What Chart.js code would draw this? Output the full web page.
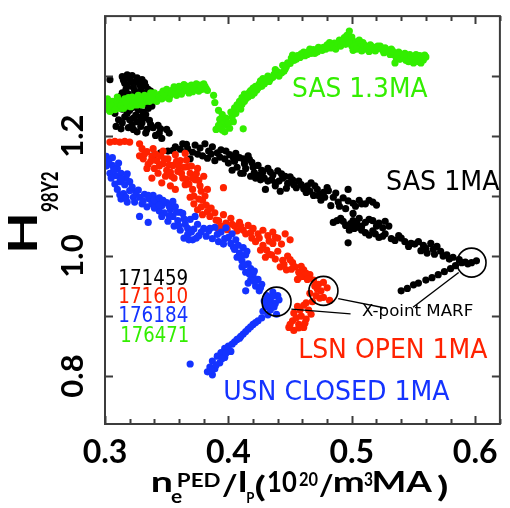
<!DOCTYPE html>
<html lang="en">
<head>
<meta charset="UTF-8">
<title>H98Y2 vs pedestal density</title>
<script src="https://cdn.jsdelivr.net/npm/chart.js"></script>
<style>
  html, body { margin: 0; padding: 0; background: #fff; overflow: hidden; }
  #wrap { position: relative; width: 516px; height: 508px; }
</style>
</head>
<body>
<div id="wrap"><canvas id="chart" width="516" height="508"></canvas></div>
<script>
// ---- data: [ne_ped/Ip, H98Y2] ----
const shot171459 = [ // black, SAS 1MA
  [0.304,1.294],[0.314,1.299],[0.318,1.302],[0.322,1.301],[0.326,1.297],[0.330,1.294],[0.316,1.288],[0.321,1.290],
  [0.328,1.286],[0.333,1.283],[0.337,1.275],[0.317,1.278],[0.324,1.275],[0.331,1.272],[0.313,1.267],[0.320,1.262],
  [0.326,1.265],[0.334,1.261],[0.339,1.259],[0.316,1.251],[0.323,1.248],[0.329,1.252],[0.335,1.246],[0.318,1.238],
  [0.325,1.235],[0.331,1.240],[0.320,1.227],[0.326,1.224],[0.332,1.230],[0.309,1.216],[0.313,1.212],[0.319,1.214],
  [0.323,1.211],[0.329,1.216],[0.334,1.211],[0.339,1.214],[0.345,1.212],[0.350,1.211],[0.341,1.201],[0.346,1.196],
  [0.308,1.238],[0.309,1.251],[0.311,1.227],
  [0.315,1.293],[0.320,1.296],[0.325,1.291],[0.332,1.289],[0.318,1.283],[0.323,1.281],[0.329,1.279],[0.335,1.278],
  [0.314,1.272],[0.319,1.270],[0.327,1.270],[0.333,1.267],[0.317,1.258],[0.322,1.256],[0.328,1.258],[0.333,1.254],
  [0.338,1.250],[0.314,1.245],[0.320,1.243],[0.327,1.244],[0.333,1.236],[0.316,1.232],[0.323,1.230],[0.329,1.232],
  [0.336,1.226],[0.314,1.222],[0.322,1.219],[0.330,1.222],[0.337,1.219],[0.343,1.218],[0.326,1.207],[0.333,1.205],
  [0.344,1.205],[0.352,1.205],
  [0.339,1.167],[0.345,1.172],[0.351,1.175],[0.357,1.182],[0.363,1.187],[0.367,1.179],[0.369,1.162],[0.373,1.185],
  [0.377,1.180],[0.381,1.187],[0.384,1.175],[0.379,1.167],[0.387,1.182],[0.391,1.172],[0.394,1.177],[0.389,1.159],
  [0.397,1.162],[0.401,1.169],[0.405,1.158],[0.409,1.164],[0.403,1.143],[0.413,1.154],[0.417,1.161],[0.420,1.148],
  [0.410,1.138],[0.424,1.151],[0.418,1.133],[0.428,1.140],[0.432,1.146],[0.426,1.127],[0.436,1.135],[0.440,1.142],
  [0.438,1.122],[0.444,1.130],[0.406,1.171],[0.412,1.162],[0.416,1.167],[0.412,1.138],[0.422,1.130],[0.427,1.143],
  [0.432,1.125],[0.430,1.111],[0.438,1.117],[0.442,1.108],[0.446,1.133],[0.448,1.121],[0.452,1.127],[0.455,1.114],
  [0.459,1.119],[0.463,1.106],[0.467,1.122],[0.469,1.101],[0.472,1.111],[0.475,1.093],[0.477,1.106],[0.481,1.109],
  [0.485,1.098],[0.483,1.084],[0.489,1.090],[0.493,1.097],[0.497,1.111],[0.495,1.079],[0.501,1.088],[0.501,1.071],
  [0.506,1.093],[0.511,1.087],[0.517,1.090],[0.485,1.056],[0.491,1.063],[0.495,1.051],[0.501,1.059],[0.506,1.063],
  [0.511,1.056],[0.517,1.059],[0.522,1.055],[0.527,1.058],[0.530,1.050],[0.498,1.043],[0.505,1.048],[0.511,1.039],
  [0.517,1.042],[0.522,1.031],[0.527,1.037],[0.532,1.029],[0.538,1.034],[0.543,1.024],[0.497,1.022],
  [0.355,1.176],[0.361,1.178],[0.366,1.186],[0.371,1.173],[0.375,1.170],[0.383,1.163],[0.386,1.170],[0.393,1.165],
  [0.398,1.175],[0.400,1.155],[0.404,1.164],[0.407,1.148],[0.414,1.146],[0.419,1.156],[0.421,1.139],[0.425,1.135],
  [0.429,1.130],[0.434,1.140],[0.435,1.127],[0.441,1.125],[0.443,1.137],[0.447,1.113],[0.450,1.132],[0.453,1.119],
  [0.457,1.125],[0.461,1.112],[0.464,1.117],[0.466,1.108],[0.470,1.117],[0.473,1.101],[0.478,1.098],[0.480,1.114],
  [0.487,1.105],[0.490,1.083],[0.497,1.092],[0.503,1.083],[0.508,1.087],[0.514,1.093],[0.520,1.085],[0.488,1.059],
  [0.493,1.058],[0.499,1.054],[0.504,1.055],[0.508,1.050],[0.514,1.061],[0.520,1.050],[0.525,1.047],[0.502,1.046],
  [0.508,1.043],[0.514,1.035],[0.519,1.037],[0.525,1.033],[0.535,1.026],[0.540,1.030],[0.546,1.016],[0.551,1.020],
  [0.560,1.013],[0.567,1.003],[0.574,1.000],[0.579,0.995],
  [0.548,1.021],[0.554,1.024],[0.558,1.018],[0.564,1.021],[0.569,1.016],[0.556,1.009],[0.561,1.005],[0.566,1.011],
  [0.572,1.008],[0.577,1.002],[0.582,0.998],[0.587,0.994],[0.592,0.990],[0.597,0.989],[0.601,0.992],
  [0.540,0.942],[0.545,0.946],[0.550,0.952],[0.554,0.955],[0.560,0.960],[0.565,0.964],[0.570,0.969],[0.575,0.974],
  [0.580,0.979],[0.584,0.984],[0.589,0.989],[0.594,0.987]
];
const shot171610 = [ // red, LSN open
  [0.304,1.190],[0.308,1.191],[0.312,1.190],[0.316,1.191],[0.320,1.190],
  [0.328,1.187],[0.330,1.179],[0.328,1.167],[0.331,1.162],[0.334,1.174],[0.335,1.153],[0.338,1.166],[0.340,1.146],
  [0.342,1.159],[0.345,1.167],[0.347,1.154],[0.343,1.138],[0.350,1.143],[0.351,1.162],[0.354,1.133],[0.355,1.151],
  [0.357,1.169],[0.359,1.141],[0.361,1.159],[0.363,1.130],[0.365,1.171],[0.367,1.149],[0.365,1.119],[0.369,1.138],
  [0.371,1.111],[0.373,1.127],[0.375,1.146],[0.377,1.117],[0.380,1.133],[0.383,1.111],[0.396,1.114],[0.369,1.098],
  [0.372,1.087],[0.375,1.077],[0.379,1.093],[0.379,1.069],[0.383,1.074],[0.338,1.130],[0.334,1.146],[0.346,1.122],
  [0.353,1.117],[0.357,1.111],[0.339,1.179],[0.347,1.175],
  [0.332,1.170],[0.337,1.158],[0.341,1.170],[0.344,1.150],[0.348,1.162],[0.349,1.133],[0.352,1.152],[0.353,1.140],
  [0.356,1.130],[0.358,1.158],[0.360,1.149],[0.362,1.138],[0.364,1.148],[0.366,1.160],[0.366,1.128],[0.368,1.120],
  [0.370,1.150],[0.371,1.130],[0.374,1.137],[0.376,1.126],[0.378,1.108],[0.372,1.100],[0.376,1.095],[0.381,1.100],
  [0.378,1.082],[0.382,1.085],[0.386,1.080],
  [0.385,1.066],[0.389,1.072],[0.392,1.059],[0.396,1.069],[0.398,1.055],[0.402,1.063],[0.405,1.050],[0.409,1.056],
  [0.412,1.043],[0.416,1.051],[0.418,1.039],[0.391,1.047],[0.390,1.060],[0.394,1.050],[0.399,1.044],[0.403,1.053],
  [0.407,1.042],[0.410,1.050],[0.414,1.037],
  [0.420,1.046],[0.424,1.037],[0.428,1.043],[0.432,1.034],[0.436,1.040],[0.440,1.030],[0.446,1.037],[0.450,1.027],
  [0.422,1.024],[0.428,1.018],[0.431,1.010],[0.436,1.021],[0.430,0.998],[0.435,1.002],[0.440,1.008],[0.444,0.993],
  [0.448,1.000],[0.452,0.989],[0.442,0.982],[0.447,0.977],[0.454,0.982],[0.457,0.973],[0.461,0.977],[0.456,0.961],
  [0.461,0.966],[0.466,0.969],[0.469,0.960],[0.473,0.953],[0.477,0.956],[0.475,0.942],[0.480,0.947],[0.471,0.934],
  [0.477,0.931],[0.482,0.926],[0.468,0.924],
  [0.419,1.030],[0.425,1.030],[0.433,1.025],[0.438,1.031],[0.443,1.020],[0.426,1.010],[0.433,1.003],[0.438,0.995],
  [0.445,0.986],[0.450,0.994],[0.451,0.978],[0.459,0.983],[0.463,0.971],[0.458,0.965],[0.464,0.961],[0.470,0.950],
  [0.472,0.945],[0.466,0.938],[0.474,0.930],[0.463,0.922],
  [0.456,0.916],[0.461,0.918],[0.465,0.910],[0.453,0.905],[0.459,0.900],[0.463,0.895],[0.452,0.892],[0.457,0.886],
  [0.453,0.876],[0.461,0.881],[0.449,0.881],[0.458,0.910],[0.467,0.903],[0.455,0.897],[0.462,0.888],[0.450,0.886],
  [0.457,0.880]
];
const shot176184 = [ // blue, USN closed
  [0.301,1.166],[0.302,1.159],[0.306,1.164],[0.301,1.150],[0.306,1.151],[0.310,1.146],[0.304,1.138],[0.309,1.134],
  [0.313,1.138],[0.317,1.130],[0.312,1.124],[0.316,1.119],[0.320,1.124],[0.310,1.111],[0.315,1.104],[0.320,1.109],
  [0.313,1.095],[0.318,1.090],[0.323,1.098],[0.325,1.106],[0.328,1.098],[0.332,1.103],[0.336,1.095],[0.339,1.101],
  [0.330,1.087],[0.334,1.082],[0.338,1.087],[0.342,1.090],[0.346,1.084],[0.350,1.089],[0.344,1.075],[0.348,1.072],
  [0.353,1.077],[0.357,1.082],[0.328,1.066],[0.335,1.056],[0.355,1.066],[0.359,1.059],[0.363,1.071],[0.351,1.058],
  [0.356,1.050],[0.361,1.043],[0.365,1.053],[0.369,1.061],[0.367,1.036],[0.372,1.045],[0.375,1.053],[0.364,1.030],
  [0.371,1.027],[0.376,1.034],[0.380,1.046],[0.373,1.066],[0.361,1.073],
  [0.303,1.157],[0.307,1.143],[0.311,1.155],[0.305,1.130],[0.313,1.128],[0.318,1.137],[0.308,1.120],[0.322,1.115],
  [0.312,1.102],[0.317,1.098],[0.324,1.090],[0.327,1.110],[0.331,1.092],[0.335,1.101],[0.340,1.094],[0.344,1.097],
  [0.347,1.093],[0.340,1.080],[0.344,1.085],[0.352,1.083],[0.355,1.091],[0.358,1.073],[0.352,1.067],[0.346,1.066],
  [0.360,1.050],[0.364,1.062],[0.367,1.046],[0.370,1.040],[0.374,1.030],[0.368,1.027],[0.378,1.040],[0.382,1.033],
  [0.384,1.042],[0.389,1.048],[0.394,1.040],[0.398,1.047],[0.403,1.037],[0.387,1.029],[0.392,1.024],[0.397,1.029],
  [0.402,1.021],[0.406,1.027],[0.385,1.046],[0.391,1.036],[0.396,1.020],[0.400,1.031],[0.404,1.015],[0.408,1.018],
  [0.405,1.011],[0.409,1.005],[0.412,1.014],[0.407,0.998],[0.411,0.992],[0.414,1.002],[0.416,0.987],[0.411,0.982],
  [0.418,0.979],[0.414,0.973],[0.420,0.969],[0.418,0.960],[0.424,0.961],[0.422,0.950],[0.427,0.953],[0.425,0.942],
  [0.414,0.942],[0.410,0.997],[0.415,1.008],[0.413,0.985],[0.417,0.970],[0.421,0.975],[0.416,0.955],[0.421,0.958],
  [0.426,0.947],
  [0.431,0.934],[0.436,0.940],[0.440,0.934],[0.434,0.926],[0.438,0.921],[0.441,0.927],[0.430,0.916],[0.434,0.910],
  [0.439,0.903],[0.428,0.908],[0.432,0.902],[0.433,0.919],[0.437,0.915],[0.436,0.933],[0.429,0.925],
  [0.424,0.892],[0.420,0.886],[0.416,0.878],[0.412,0.870],[0.409,0.863],[0.405,0.857],[0.400,0.850],[0.397,0.846],
  [0.394,0.839],[0.391,0.833],[0.387,0.825],[0.385,0.815],[0.383,0.807],[0.389,0.812],[0.393,0.822],[0.397,0.831],
  [0.402,0.841],[0.369,0.820],[0.387,0.802],[0.427,0.897],[0.422,0.889],[0.418,0.882],[0.414,0.874],[0.410,0.866],
  [0.407,0.861],[0.403,0.853],[0.398,0.838],[0.395,0.829],[0.390,0.818],[0.386,0.810]
];
const shot176471 = [ // green, SAS 1.3MA
  [0.301,1.245],[0.301,1.256],[0.303,1.250],[0.304,1.241],[0.306,1.258],[0.307,1.247],[0.309,1.253],[0.311,1.260],
  [0.312,1.246],[0.314,1.255],[0.316,1.262],[0.318,1.250],[0.320,1.257],[0.322,1.265],[0.323,1.252],[0.325,1.260],
  [0.327,1.268],[0.329,1.255],[0.331,1.262],[0.333,1.258],[0.335,1.266],[0.337,1.272],[0.339,1.260],[0.341,1.267],
  [0.343,1.262],[0.345,1.270],[0.347,1.275],[0.349,1.265],[0.351,1.271],[0.353,1.268],[0.355,1.277],[0.357,1.271],
  [0.359,1.279],[0.361,1.274],[0.363,1.281],[0.365,1.276],[0.367,1.283],[0.369,1.278],[0.371,1.274],[0.373,1.282],
  [0.375,1.279],[0.377,1.285],[0.379,1.278],[0.381,1.283],[0.383,1.276],
  [0.302,1.262],[0.305,1.250],[0.308,1.244],[0.310,1.265],[0.313,1.251],[0.315,1.246],[0.317,1.256],[0.319,1.264],
  [0.321,1.249],[0.324,1.256],[0.326,1.252],[0.328,1.262],[0.330,1.252],[0.332,1.268],[0.334,1.262],[0.336,1.258],
  [0.338,1.265],[0.340,1.272],[0.342,1.258],[0.344,1.265],[0.346,1.262],[0.348,1.270],[0.350,1.278],[0.352,1.262],
  [0.354,1.272],[0.356,1.282],[0.358,1.268],[0.360,1.283],[0.362,1.270],[0.364,1.286],[0.366,1.278],[0.368,1.272],
  [0.370,1.285],[0.372,1.278],[0.374,1.287],[0.376,1.275],[0.378,1.282],[0.380,1.287],[0.382,1.279],
  [0.388,1.268],[0.389,1.256],[0.392,1.243],[0.395,1.236],[0.393,1.228],[0.396,1.222],[0.398,1.230],[0.399,1.218],
  [0.394,1.214],[0.390,1.211],[0.401,1.213],[0.404,1.224],[0.397,1.207],[0.403,1.232],[0.405,1.247],[0.407,1.252],
  [0.409,1.258],[0.411,1.264],[0.412,1.212],[0.410,1.245],[0.413,1.270],[0.414,1.262],[0.417,1.273],[0.419,1.268],
  [0.392,1.218],[0.395,1.210],[0.400,1.222],[0.402,1.240],[0.406,1.238],[0.408,1.250],[0.411,1.253],[0.413,1.258],
  [0.420,1.280],[0.423,1.277],[0.425,1.287],[0.427,1.283],[0.428,1.296],[0.430,1.290],[0.432,1.300],[0.434,1.295],
  [0.437,1.303],[0.440,1.307],[0.443,1.305],[0.444,1.318],[0.446,1.312],[0.448,1.322],[0.451,1.330],[0.453,1.326],
  [0.416,1.265],[0.418,1.276],[0.421,1.272],[0.422,1.283],[0.424,1.280],[0.426,1.292],[0.429,1.287],[0.431,1.295],
  [0.433,1.291],[0.436,1.298],[0.438,1.311],[0.441,1.300],[0.445,1.308],[0.447,1.316],[0.450,1.321],[0.452,1.335],
  [0.456,1.334],[0.459,1.337],[0.462,1.334],[0.465,1.341],[0.467,1.338],[0.469,1.344],[0.472,1.340],[0.475,1.346],
  [0.477,1.348],[0.480,1.352],[0.483,1.347],[0.486,1.355],[0.488,1.350],[0.490,1.360],[0.492,1.356],[0.494,1.364],
  [0.455,1.328],[0.458,1.331],[0.461,1.340],[0.464,1.336],[0.466,1.345],[0.470,1.338],[0.473,1.348],[0.476,1.343],
  [0.479,1.345],[0.482,1.356],[0.485,1.350],[0.487,1.345],[0.489,1.353],[0.491,1.350],[0.493,1.358],[0.495,1.353],
  [0.496,1.368],[0.498,1.375],[0.499,1.362],[0.500,1.350],[0.501,1.343],[0.503,1.357],[0.505,1.352],[0.507,1.348],
  [0.509,1.356],[0.511,1.350],[0.513,1.344],[0.515,1.352],[0.518,1.348],[0.520,1.345],[0.523,1.350],[0.525,1.343],
  [0.497,1.360],[0.498,1.355],[0.500,1.365],[0.502,1.350],[0.504,1.345],[0.506,1.360],[0.508,1.342],[0.510,1.352],
  [0.512,1.347],[0.514,1.341],[0.516,1.349],[0.519,1.342],[0.521,1.350],[0.524,1.346],[0.526,1.339],[0.528,1.344],
  [0.527,1.347],[0.530,1.340],[0.532,1.345],[0.534,1.336],[0.536,1.330],[0.538,1.340],[0.540,1.334],[0.543,1.338],
  [0.545,1.330],[0.547,1.336],[0.549,1.326],[0.551,1.333],[0.553,1.328],[0.555,1.334],[0.557,1.330],[0.559,1.335],
  [0.531,1.336],[0.533,1.342],[0.537,1.335],[0.539,1.328],[0.542,1.333],[0.544,1.326],[0.548,1.331],[0.550,1.322],
  [0.552,1.336],[0.554,1.324],[0.558,1.327],[0.560,1.332],[0.556,1.322],[0.546,1.324],[0.535,1.322]
];
const marfCircles = [[0.597,0.989],[0.477,0.942],[0.439,0.924]];
const marfLeaders = [
  [[0.5866,0.9726],[0.5496,0.9147]],
  [[0.489,0.929],[0.528,0.913]],
  [[0.451,0.9115],[0.499,0.9035]]
];
const shotNumbers = ['171459','171610','176184','176471'];
const curveNames = ['SAS 1MA','LSN OPEN 1MA','USN CLOSED 1MA','SAS 1.3MA'];
const xTicks = [0.3,0.4,0.5,0.6];
const xMinorTicks = [0.32,0.34,0.36,0.38,0.42,0.44,0.46,0.48,0.52,0.54,0.56,0.58,0.62];
const yTicks = [0.8,1.0,1.2];
const yMinorTicks = [0.9,1.1,1.3];

const BLACK = '#000000', RED = '#ff2200', BLUE = '#1433ff', GREEN = '#33ee00';
const BOLD = 'Lato, "DejaVu Sans", sans-serif';
const PLAIN = '"DejaVu Sans", Lato, sans-serif';

const toXY = arr => arr.map(p => ({ x: p[0], y: p[1] }));

function cloud(label, arr, color, order) {
  return { label, data: toXY(arr), backgroundColor: color, borderWidth: 0,
           pointRadius: 3.6, pointHoverRadius: 3.6, order };
}

// draw text so its ink starts at `left` and spans `width` px
function fitText(ctx, text, left, base, width, font) {
  ctx.font = font;
  ctx.textAlign = 'left';
  ctx.textBaseline = 'alphabetic';
  const m = ctx.measureText(text);
  const ink = m.actualBoundingBoxLeft + m.actualBoundingBoxRight;
  ctx.save();
  ctx.translate(left, base);
  ctx.scale(width / ink, 1);
  ctx.fillText(text, m.actualBoundingBoxLeft, 0);
  ctx.restore();
}

// text boxes as seen in the figure: [left, baseline, ink width]
const nameBoxes = [[387,190,113],[300,358,188],[225,400,225],[293,97,135]];
const nameColors = [BLACK, RED, BLUE, GREEN];
const shotBoxes = [[120,285,67],[120,303,67],[120,322,68],[122,342,66]];

const decor = {
  id: 'decor',
  afterDraw(chart) {
    const { ctx, chartArea: a, scales: { x, y } } = chart;
    ctx.save();
    // frame + inward ticks
    ctx.strokeStyle = '#3c3c3c';
    ctx.lineWidth = 2;
    ctx.strokeRect(a.left, a.top, a.right - a.left, a.bottom - a.top);
    ctx.beginPath();
    const xt = (v, len) => {
      const px = Math.round(x.getPixelForValue(v)) + 0.5;
      ctx.moveTo(px, a.bottom); ctx.lineTo(px, a.bottom - len);
      ctx.moveTo(px, a.top); ctx.lineTo(px, a.top + len);
    };
    xTicks.forEach(v => xt(v, 8));
    xMinorTicks.forEach(v => xt(v, 5));
    const yt = (v, len) => {
      const py = Math.round(y.getPixelForValue(v)) + 0.5;
      ctx.moveTo(a.left, py); ctx.lineTo(a.left + len, py);
      ctx.moveTo(a.right, py); ctx.lineTo(a.right - len, py);
    };
    yTicks.forEach(v => yt(v, 8));
    yMinorTicks.forEach(v => yt(v, 8));
    ctx.stroke();

    // rotated y tick labels
    ctx.fillStyle = '#000';
    ctx.font = 'bold 31px ' + BOLD;
    ctx.textAlign = 'center';
    ctx.textBaseline = 'alphabetic';
    yTicks.forEach(v => {
      ctx.save();
      ctx.translate(83, y.getPixelForValue(v));
      ctx.rotate(-Math.PI / 2);
      ctx.fillText(v.toFixed(1), 0, 0);
      ctx.restore();
    });

    // y title H_98Y2
    ctx.save();
    ctx.translate(37, 250);
    ctx.rotate(-Math.PI / 2);
    fitText(ctx, 'H', 0, 0, 34, 'bold 40px ' + BOLD);
    fitText(ctx, '98Y2', 38, 21, 40, 'bold 22px ' + BOLD);
    ctx.restore();

    // x title n_e^PED / I_P (10^20 / m^3 MA)
    const main = 'bold 29px ' + BOLD, small = 'bold 19px ' + BOLD, sub = 'bold 15px ' + BOLD;
    const pieces = [
      ['n', 152, 492, 19, main], ['e', 171, 503, 11, small], ['PED', 178, 487, 42, small],
      ['/', 222, 495, 15, main], ['I', 240, 492, 6, main], ['P', 247, 503, 7, sub],
      ['(', 256, 497, 10, main], ['10', 268, 492, 29, main], ['20', 299, 486, 19, small],
      ['/', 319, 495, 14, main], ['m', 334, 492, 29, main], ['3', 364, 486, 9, small],
      ['MA', 374, 492, 59, main], [')', 437, 497, 10, main]
    ];
    pieces.forEach(([t, px, py, w, f]) => fitText(ctx, t, px, py, w, f));

    // curve names
    curveNames.forEach((t, i) => {
      ctx.fillStyle = nameColors[i];
      const [l, b, w] = nameBoxes[i];
      fitText(ctx, t, l, b, w, '27px ' + PLAIN);
    });

    // shot numbers
    shotNumbers.forEach((t, i) => {
      ctx.fillStyle = nameColors[i];
      const [l, b, w] = shotBoxes[i];
      fitText(ctx, t, l, b, w, '21px ' + PLAIN);
    });

    // MARF label
    ctx.fillStyle = '#000';
    fitText(ctx, 'X-point MARF', 362, 316, 111, '16px ' + PLAIN);
    ctx.restore();
  }
};

const leaderSets = marfLeaders.map((seg, i) => ({
  label: 'leader' + i, type: 'line', data: toXY(seg), showLine: true,
  borderColor: '#000', borderWidth: 1.4, pointRadius: 0, fill: false, order: 0
}));

new Chart(document.getElementById('chart'), {
  type: 'scatter',
  data: {
    datasets: [
      { label: 'X-point MARF', data: toXY(marfCircles), pointRadius: 14.5, pointHoverRadius: 14.5,
        backgroundColor: 'rgba(0,0,0,0)', borderColor: '#000', borderWidth: 1.6, order: 0 },
      ...leaderSets,
      cloud('176471', shot176471, GREEN, 1),
      cloud('176184', shot176184, BLUE, 2),
      cloud('171610', shot171610, RED, 3),
      cloud('171459', shot171459, BLACK, 4)
    ]
  },
  options: {
    responsive: false,
    animation: false,
    devicePixelRatio: 1,
    layout: { padding: { top: 3, right: 6, left: 0, bottom: 0 } },
    plugins: { legend: { display: false }, tooltip: { enabled: false } },
    scales: {
      x: {
        type: 'linear', min: 0.3, max: 0.62,
        grid: { display: false, drawTicks: false },
        border: { display: false },
        afterBuildTicks: s => { s.ticks = xTicks.map(v => ({ value: v })); },
        afterFit: s => { s.height = 84; },
        ticks: { color: '#000', padding: 9, font: { family: BOLD, size: 32, weight: 'bold' },
                 callback: v => v.toFixed(1), maxRotation: 0 }
      },
      y: {
        type: 'linear', min: 0.72, max: 1.40,
        grid: { display: false, drawTicks: false },
        border: { display: false },
        afterBuildTicks: s => { s.ticks = yTicks.map(v => ({ value: v })); },
        afterFit: s => { s.width = 105; },
        ticks: { display: false }
      }
    }
  },
  plugins: [decor]
});
</script>
</body>
</html>
